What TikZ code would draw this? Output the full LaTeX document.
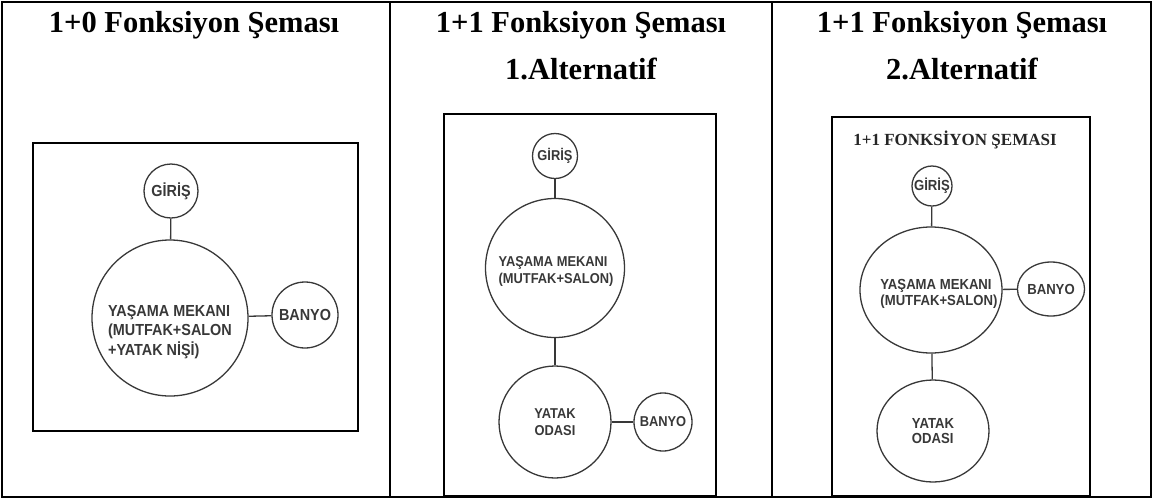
\documentclass[tikz,border=0pt]{standalone}
\usepackage{fontspec}
\setmainfont{Liberation Serif}
\newfontfamily\plansans[FakeStretch=0.9]{Liberation Sans}
\usetikzlibrary{shapes.geometric}

\definecolor{inkgray}{HTML}{383838}

\begin{document}
\begin{tikzpicture}[x=1pt,y=-1pt,
  rule/.style={line width=2pt},
  frame/.style={line width=2.6pt},
  head/.style={font=\bfseries\fontsize{30.5}{36}\selectfont, anchor=base},
  room/.style={circle, draw=inkgray, line width=1.3pt, inner sep=0pt, text=inkgray, align=center},
  oval/.style={ellipse, draw=inkgray, line width=1.3pt, inner sep=0pt, text=inkgray, align=center},
  roomtext/.style={inner sep=0pt, text=inkgray},
  link/.style={draw=inkgray, line width=1.3pt},
  pA/.style={font=\plansans\bfseries\fontsize{16}{19.5}\selectfont},
  pB/.style={font=\plansans\bfseries\fontsize{14.3}{17}\selectfont},
  pC/.style={font=\plansans\bfseries\fontsize{14.6}{15.5}\selectfont},
]
\useasboundingbox (0,0) rectangle (1152,499);

% table grid
\draw[rule] (1.5,1.5) rectangle (1150.5,497);
\draw[rule] (390,1.5) -- (390,497);
\draw[rule] (772,1.5) -- (772,497);

% column headings
\node[head] (h1)  at (194,32) {1+0 Fonksiyon Şeması};
\node[head] (h2)  at (581,32) {1+1 Fonksiyon Şeması};
\node[head] (h2b) at (581,79) {1.Alternatif};
\node[head] (h3)  at (962,32) {1+1 Fonksiyon Şeması};
\node[head] (h3b) at (962,79) {2.Alternatif};

% plan frames
\draw[frame] (33,143) rectangle (358,431);
\draw[frame] (444,114) rectangle (716,496);
\draw[frame] (832,117) rectangle (1090,496);

% 1+0 scheme
\node[room, pA, minimum size=54] (g1) at (171,191) {GİRİŞ};
\node[room, minimum size=156] (m1) at (170,318) {};
\node[roomtext, pA, align=left] (m1t) at (170,332) {YAŞAMA MEKANI\\(MUTFAK+SALON\\+YATAK NİŞİ)};
\node[room, pA, minimum size=66] (b1) at (305,315) {BANYO};
\draw[link] (g1) -- (m1);
\draw[link] (m1) -- (b1);

% 1+1 scheme, first alternative
\node[room, pB, minimum size=45] (g2) at (555,156) {GİRİŞ};
\node[room, minimum size=139] (m2) at (555,268) {};
\node[roomtext, pB, align=left] (m2t) at (556,271) {YAŞAMA MEKANI\\(MUTFAK+SALON)};
\node[room, pB, minimum size=112] (y2) at (555,422) {YATAK\\ODASI};
\node[room, pB, minimum size=58] (b2) at (663,422) {BANYO};
\draw[link] (g2) -- (m2);
\draw[link] (m2) -- (y2);
\draw[link] (y2) -- (b2);

% 1+1 scheme, second alternative
\node[font=\bfseries\fontsize{17}{20}\selectfont, text=black!85] (t3) at (955,140) {1+1 FONKSİYON ŞEMASI};
\node[room, pC, minimum size=40] (g3) at (932,186) {GİRİŞ};
\node[oval, minimum width=142, minimum height=126] (m3) at (931,290) {};
\node[roomtext, pC, align=left] (m3t) at (939,294) {YAŞAMA MEKANI\\(MUTFAK+SALON)};
\node[oval, pC, minimum width=57, minimum height=54] (b3) at (1051,289) {BANYO};
\node[oval, pC, align=left, minimum width=112, minimum height=102] (y3) at (933,431) {YATAK\\ODASI};
\draw[link] (g3) -- (m3);
\draw[link] (m3) -- (b3);
\draw[link] (m3) -- (y3);
\end{tikzpicture}
\end{document}
